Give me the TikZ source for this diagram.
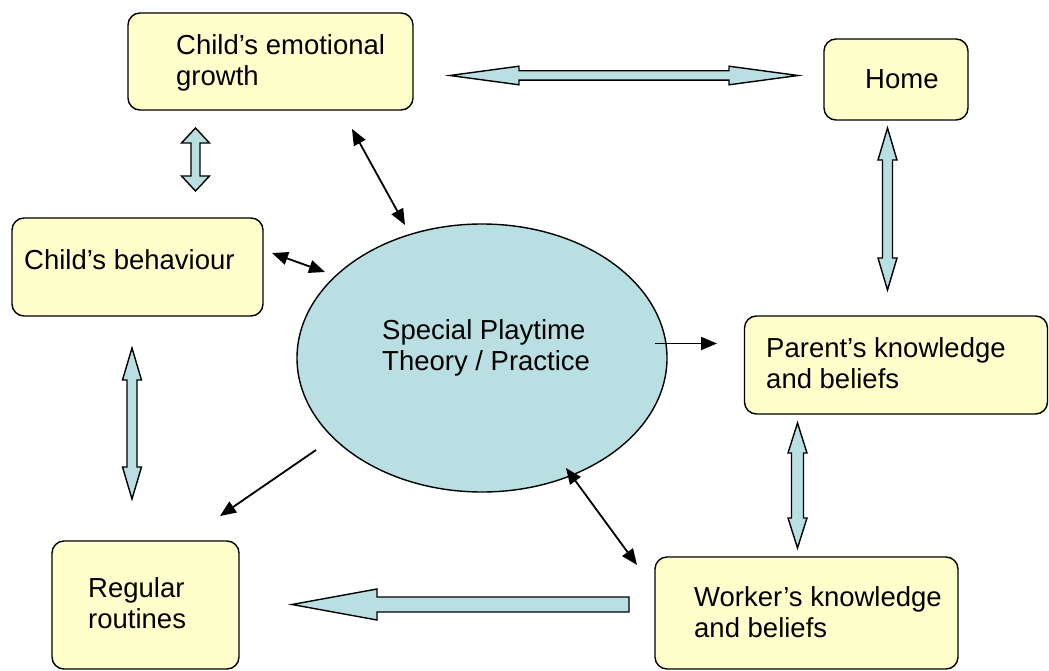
\documentclass[tikz,border=0pt]{standalone}
\usepackage{fontspec}
\setmainfont{Liberation Sans}
\usetikzlibrary{arrows.meta,shapes.geometric}
\definecolor{boxyellow}{HTML}{FFFFCC}
\definecolor{paleblue}{HTML}{B9DFE3}
\tikzset{
  boxnode/.style={draw=black, line width=1.4pt, fill=boxyellow, rounded corners=12pt, inner sep=0pt},
  ovalnode/.style={draw=black, line width=1.4pt, fill=paleblue, ellipse, inner sep=0pt},
  txt/.style={inner sep=0pt, align=left, font=\fontsize{27.5}{31}\selectfont, anchor=base west},
  thin/.style={line width=1.8pt, draw=black},
  tip/.style={-{Triangle[length=16pt,width=13pt]}},
  tips/.style={{Triangle[length=16pt,width=13pt]}-{Triangle[length=16pt,width=13pt]}},
  block/.style={draw=black, line width=1.4pt, fill=paleblue, line join=miter}
}
% vertical double block arrow: x, ytop, ybot, shaft half, head half, head length
\newcommand{\vdblock}[6]{%
  \draw[block] (#1,#2) -- (#1+#5,#2+#6) -- (#1+#4,#2+#6) -- (#1+#4,#3-#6) -- (#1+#5,#3-#6)
    -- (#1,#3) -- (#1-#5,#3-#6) -- (#1-#4,#3-#6) -- (#1-#4,#2+#6) -- (#1-#5,#2+#6) -- cycle;}
% horizontal double block arrow: y, xleft, xright, shaft half, head half, head length
\newcommand{\hdblock}[6]{%
  \draw[block] (#2,#1) -- (#2+#6,#1-#5) -- (#2+#6,#1-#4) -- (#3-#6,#1-#4) -- (#3-#6,#1-#5)
    -- (#3,#1) -- (#3-#6,#1+#5) -- (#3-#6,#1+#4) -- (#2+#6,#1+#4) -- (#2+#6,#1+#5) -- cycle;}
\begin{document}
\begin{tikzpicture}[x=1pt,y=-1pt]
\useasboundingbox (0,0) rectangle (1049,671);

% boxes
\node[boxnode, minimum width=285pt, minimum height=97pt] (emo) at (270.5,61.5) {};
\node[boxnode, minimum width=144pt, minimum height=81pt] (home) at (896,79.5) {};
\node[boxnode, minimum width=251pt, minimum height=98pt] (beh) at (137.5,267) {};
\node[boxnode, minimum width=303pt, minimum height=98pt] (par) at (896,365) {};
\node[boxnode, minimum width=303pt, minimum height=112pt] (wor) at (806.5,613) {};
\node[boxnode, minimum width=187pt, minimum height=128pt] (rou) at (145.5,605) {};
\node[ovalnode, minimum width=370pt, minimum height=268pt] (sp) at (482,358) {};

% texts (base anchor = baseline of the last line)
\node[txt] (emoT) at (176,86) {Child’s emotional\\growth};
\node[txt] (homeT) at (865,89) {Home};
\node[txt] (behT) at (24,269) {Child’s behaviour};
\node[txt] (spT) at (382,370) {Special Playtime\\Theory / Practice};
\node[txt] (parT) at (766,388) {Parent’s knowledge\\and beliefs};
\node[txt] (worT) at (694,637) {Worker’s knowledge\\and beliefs};
\node[txt] (rouT) at (88,628) {Regular\\routines};

% block arrows
\hdblock{75.5}{450}{798}{4.7}{9.3}{69}
\vdblock{195.5}{128}{191}{4.5}{14}{15}
\vdblock{132}{348}{499}{5}{9.5}{32}
\vdblock{887.5}{128}{290}{5}{9.5}{32}
\vdblock{797.5}{423}{548}{6}{9.5}{30}
\draw[block] (292,604.5) -- (377,589) -- (377,597) -- (629,597) -- (629,612) -- (377,612) -- (377,620) -- cycle;

% thin arrows
\coordinate (a1) at (352,129);
\coordinate (a2) at (405,225);
\coordinate (b1) at (272,253);
\coordinate (b2) at (325,272);
\coordinate (c1) at (655,343.5);
\coordinate (c2) at (717,343.5);
\coordinate (d1) at (316,450);
\coordinate (d2) at (220,516);
\coordinate (e1) at (566,468);
\coordinate (e2) at (637,565);
\draw[thin, tips] (a1) -- (a2);
\draw[thin, tips] (b1) -- (b2);
\draw[thin, tip] (c1) -- (c2);
\draw[thin, tip] (d1) -- (d2);
\draw[thin, tips] (e1) -- (e2);
\end{tikzpicture}
\end{document}
